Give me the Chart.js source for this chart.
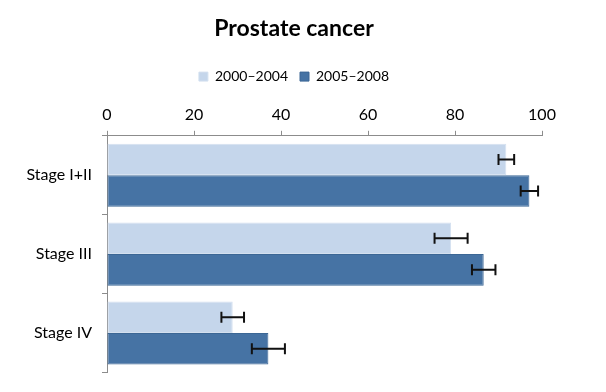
<!DOCTYPE html>
<html>
<head>
<meta charset="utf-8">
<script src="https://cdn.jsdelivr.net/npm/chart.js@4"></script>
<style>
  html, body { margin: 0; padding: 0; background: #fff; }
  #wrap { width: 606px; height: 392px; }
</style>
</head>
<body>
<div id="wrap"><canvas id="chart" width="606" height="392"></canvas></div>
<script>
// values
const stages = ['Stage I+II', 'Stage III', 'Stage IV'];
const period1 = [91.8, 79.1, 28.9];   // 2000–2004
const period1Err = [1.8, 3.8, 2.6];
const period2 = [97.1, 86.6, 37.1];   // 2005–2008
const period2Err = [2.0, 2.7, 3.8];
const xTicks = [0, 20, 40, 60, 80, 100];

const FONT = 'Lato, "Open Sans", sans-serif';

// draws the error bars through the chart's own scales
const errorBars = {
  id: 'errorBars',
  afterDatasetsDraw(chart) {
    const ctx = chart.ctx;
    const xs = chart.scales.x;
    chart.data.datasets.forEach((ds, i) => {
      const meta = chart.getDatasetMeta(i);
      meta.data.forEach((bar, j) => {
        const v = ds.data[j];
        const e = ds.errors[j];
        const x0 = xs.getPixelForValue(v - e);
        const x1 = xs.getPixelForValue(v + e);
        const y = bar.y;
        ctx.save();
        ctx.strokeStyle = '#111';
        ctx.lineWidth = 2;
        ctx.beginPath();
        ctx.moveTo(x0, y); ctx.lineTo(x1, y);
        ctx.moveTo(x0, y - 5.5); ctx.lineTo(x0, y + 5.5);
        ctx.moveTo(x1, y - 5.5); ctx.lineTo(x1, y + 5.5);
        ctx.stroke();
        ctx.restore();
      });
    });
  }
};

new Chart(document.getElementById('chart'), {
  type: 'bar',
  data: {
    labels: stages,
    datasets: [
      {
        label: '2000–2004',
        data: period1,
        errors: period1Err,
        backgroundColor: '#c5d6eb',
        borderColor: '#d4e0ef',
        borderWidth: 1,
        borderSkipped: false,
      },
      {
        label: '2005–2008',
        data: period2,
        errors: period2Err,
        backgroundColor: '#4673a4',
        borderColor: '#3c6795',
        borderWidth: 1,
        borderSkipped: false,
      },
    ],
  },
  options: {
    indexAxis: 'y',
    responsive: false,
    animation: false,
    layout: { padding: { left: 10, right: 28, top: 0, bottom: 17 } },
    categoryPercentage: 0.8,
    barPercentage: 1.0,
    plugins: {
      title: {
        display: true,
        text: 'Prostate cancer',
        color: '#000',
        font: { family: FONT, size: 23, weight: 'bold' },
        padding: { top: 15, bottom: 15 },
      },
      legend: {
        display: true,
        labels: {
          color: '#000',
          font: { family: FONT, size: 14 },
          boxWidth: 9,
          boxHeight: 9,
          padding: 12,
        },
      },
      tooltip: { enabled: false },
    },
    scales: {
      x: {
        position: 'top',
        min: 0,
        max: 100,
        afterBuildTicks: (s) => { s.ticks = xTicks.map((v) => ({ value: v })); },
        ticks: { color: '#000', font: { family: FONT, size: 16 }, padding: 6 },
        grid: { drawOnChartArea: false, tickLength: 5, color: '#8c8c8c' },
        border: { color: '#8c8c8c', width: 1 },
        afterFit: (s) => { s.height += 6; },
      },
      y: {
        ticks: { color: '#000', font: { family: FONT, size: 16 }, padding: 10 },
        grid: { drawOnChartArea: false, tickLength: 5, color: '#8c8c8c', offset: true },
        border: { color: '#8c8c8c', width: 1 },
        afterFit: (s) => { s.width = 97; },
      },
      // empty spacer on the right so the title centres like the reference
      spacer: {
        type: 'category',
        axis: 'y',
        position: 'right',
        labels: stages,
        ticks: { display: false },
        grid: { display: false },
        border: { display: false },
        afterFit: (s) => { s.width = 36; },
      },
    },
  },
  plugins: [errorBars],
});
</script>
</body>
</html>
